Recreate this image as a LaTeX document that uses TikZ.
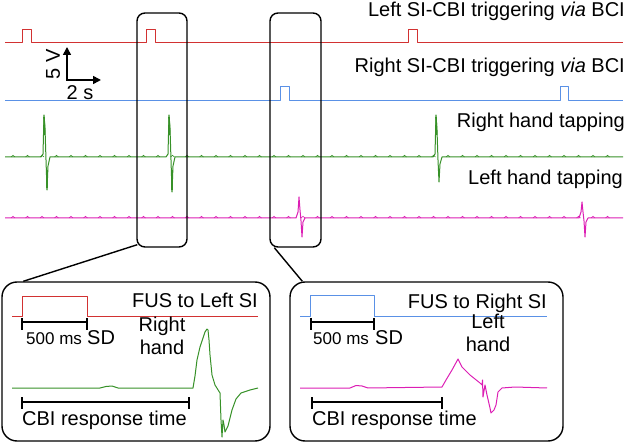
\documentclass[tikz,border=0pt]{standalone}
\usepackage{fontspec}
\setmainfont{Liberation Sans}
\usetikzlibrary{arrows.meta}
\definecolor{tred}{RGB}{210,50,50}
\definecolor{tblue}{RGB}{90,145,230}
\definecolor{tgreen}{RGB}{55,145,40}
\definecolor{tmag}{RGB}{220,30,180}
\begin{document}
\begin{tikzpicture}[x=1pt,y=-1pt,
  trace/.style={line width=1pt, line join=round},
  zoombox/.style={draw, line width=1.4pt, rounded corners=8pt, inner sep=0pt},
  insetbox/.style={draw, line width=1.4pt, rounded corners=15pt, inner sep=0pt},
  lbl/.style={font=\fontsize{20}{23}\selectfont, inner sep=0pt},
  small/.style={font=\fontsize{17}{19}\selectfont, inner sep=0pt},
  bar/.style={line width=1.3pt},
  conn/.style={line width=1.4pt}]
\useasboundingbox (0,0) rectangle (629,443);
% ---- top traces ----
\draw[trace,tred] (5,43) -- (22,43) -- (22,30) -- (31,30) -- (31,43)
  -- (146,43) -- (146,30) -- (155,30) -- (155,43)
  -- (408,43) -- (408,30) -- (417,30) -- (417,43) -- (623,43);
\draw[trace,tblue] (5,101) -- (280,101) -- (280,87) -- (289,87) -- (289,101)
  -- (560,101) -- (560,87) -- (568,87) -- (568,101) -- (623,101);
% green
\draw[trace,tgreen] (5,157) -- (41,157) -- (43,154) -- (44,115) -- (45,128) -- (46,160) -- (47,190) -- (48,166) -- (50,157)
  -- (166,157) -- (168,154) -- (169,115) -- (170,128) -- (171,160) -- (172,192) -- (173,166) -- (175,157)
  -- (433,157) -- (435,154) -- (436,115) -- (437,130) -- (438,160) -- (439,182) -- (440,164) -- (442,157) -- (623,157);
\draw[tgreen,line width=1.6pt] (44,117) -- (44.6,135) (47,170) -- (47,188)
  (169,117) -- (169.6,135) (172,170) -- (172,190) (436,117) -- (436.6,135);
\foreach \x in {13,27.5,...,620}{
  \draw[tgreen,line width=0.6pt] (\x-2,157) -- (\x,155.3) -- (\x+2,157);}
% magenta
\draw[trace,tmag] (5,218) -- (296,218) -- (298,212) -- (299,197) -- (300,210) -- (301,221) -- (302,237) -- (303,222) -- (305,218)
  -- (579,218) -- (581,212) -- (582,202) -- (583,212) -- (584,221) -- (585,237) -- (586,222) -- (588,218) -- (623,218);
\foreach \x in {13,27.5,...,620}{
  \draw[tmag,line width=0.6pt] (\x-2,218) -- (\x,216.3) -- (\x+2,218);}
% ---- labels top ----
\node[lbl,anchor=base east] (l1) at (625,17) {Left SI-CBI triggering \textit{via} BCI};
\node[lbl,anchor=base east] (l2) at (625,73) {Right SI-CBI triggering \textit{via} BCI};
\node[lbl,anchor=base east] (l3) at (625,128) {Right hand tapping};
\node[lbl,anchor=base east] (l4) at (623,185) {Left hand tapping};
% ---- scale bar ----
\coordinate (sb0) at (67,80);
\coordinate (sbv) at (67,47);
\coordinate (sbh) at (101,80);
\draw[line width=1.6pt,-{Triangle[length=8pt,width=8pt]}] (sb0) -- (sbv);
\draw[line width=1.6pt,-{Triangle[length=8pt,width=8pt]}] ([xshift=-0.8pt]sb0) -- (sbh);
\node[lbl,rotate=90] (v5) at (53,64) {5 V};
\node[lbl] (s2) at (80,93) {2 s};
% ---- zoom boxes ----
\node[zoombox, minimum width=50pt, minimum height=234pt] (box1) at (162,130) {};
\node[zoombox, minimum width=51pt, minimum height=234pt] (box2) at (295.5,130) {};
% ---- insets ----
\node[insetbox, minimum width=268pt, minimum height=159pt] (in1) at (136,361.5) {};
\node[insetbox, minimum width=273pt, minimum height=159pt] (in2) at (426.5,361.5) {};
% connectors
\draw[conn] ([shift={(1pt,3pt)}]box1.south west) -- ([xshift=22pt]in1.north west);
\draw[conn] ([shift={(5pt,0pt)}]box2.south west) -- ([xshift=13pt]in2.north west);
% ---- inset 1 ----
\draw[trace,tred] (12,317) -- (22,317) -- (22,297) -- (87,297) -- (87,317) -- (258,317);
\node[lbl,anchor=base east] (f1) at (258,308) {FUS to Left SI};
\draw[bar] (22,318) -- (22,330) (22,322) -- (87,322) (87,318) -- (87,330);
\node[small,anchor=base west] (m1) at (26,345) {500 ms};
\node[lbl,anchor=base west] (sd1) at (87,345) {SD};
\node[lbl,align=center,anchor=base] (rh) at (162,355) {Right\\hand};
\draw[trace,tgreen] (12,388) -- (100,388) -- (106,386.5) -- (112,386) -- (118,388) -- (193,388) -- (195,376) -- (197,360) -- (200,347) -- (203,338) -- (205,332) -- (207,329) -- (208,330)
  -- (209,340) -- (210,355) -- (212,375) -- (215,385) -- (220,393) -- (221,420) -- (222,437) -- (223,420) -- (224,425) -- (225,432)
  -- (228,426) -- (232,410) -- (236,399) -- (241,393) -- (250,390) -- (258,388);
\draw[bar] (22,397) -- (22,409) (22,402) -- (189,402) (189,397) -- (189,409);
\node[lbl,anchor=base west] (cbi1) at (22,425) {CBI response time};
% ---- inset 2 ----
\draw[trace,tblue] (300,317) -- (310,317) -- (310,296) -- (374,296) -- (374,317) -- (547,317);
\node[lbl,anchor=base east] (f2) at (547,309) {FUS to Right SI};
\draw[bar] (311,318) -- (311,330) (311,322) -- (374,322) (374,318) -- (374,330);
\node[small,anchor=base west] (m2) at (313,345) {500 ms};
\node[lbl,anchor=base west] (sd2) at (375,345) {SD};
\node[lbl,align=center,anchor=base] (lh) at (488,352) {Left\\hand};
\draw[trace,tmag] (300,388) -- (350,388) -- (356,385.5) -- (362,386) -- (368,388) -- (442,387) -- (446,380) -- (452,370) -- (458,359) -- (462,367) -- (470,375) -- (480,383)
  -- (482,385) -- (482.5,380) -- (483,397) -- (485,385) -- (487,395) -- (490,408) -- (491,413) -- (494,410) -- (496,405) -- (498,392) -- (502,388) -- (515,387) -- (547,388);
\draw[bar] (312,397) -- (312,409) (312,402) -- (442,402) (442,397) -- (442,409);
\node[lbl,anchor=base west] (cbi2) at (312,425) {CBI response time};
\end{tikzpicture}
\end{document}
